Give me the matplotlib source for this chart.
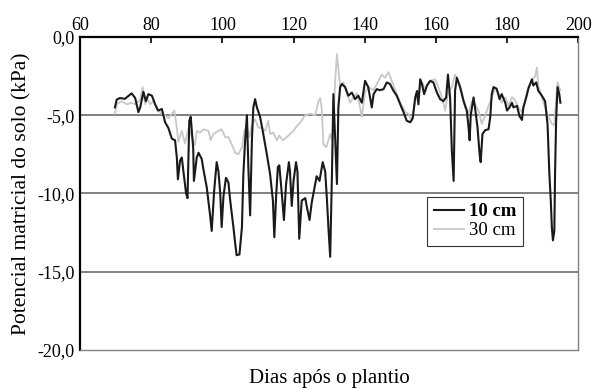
import matplotlib.pyplot as plt

plt.rcParams["font.family"] = ["Liberation Serif", "DejaVu Serif"]

# Soil matric potential (kPa), per day after planting
days_10cm = [
    69.8, 70.3, 71.2, 72.6, 74.5, 75.5, 76.4, 76.9, 77.8, 78.5, 79.2, 80.2,
    81.1, 81.9, 83.0, 83.9, 84.8, 85.8, 86.7, 87.2, 87.5, 88.1, 88.6, 89.0,
    89.8, 90.2, 90.7, 91.1, 91.8, 92.0, 92.8, 93.3, 94.2, 94.7, 95.6, 96.5,
    97.0, 97.7, 98.4, 98.9, 99.4, 99.8, 100.3, 101.0, 101.7, 102.2, 103.1,
    103.6, 104.0, 104.8, 105.5, 105.9, 106.4, 106.9, 107.3, 107.8, 108.3,
    108.7, 109.2, 109.7, 110.6, 111.5, 112.5, 113.4, 114.2, 114.6, 115.1,
    115.6, 116.0, 116.7, 117.3, 117.9, 118.7, 119.0, 119.5, 120.0, 120.7,
    121.1, 121.6, 122.3, 123.3, 123.7, 124.5, 125.1, 126.1, 126.5, 127.3,
    128.2, 128.9, 129.4, 129.8, 130.3, 130.8, 131.2, 131.7, 132.2, 132.6,
    133.1, 133.6, 134.5, 135.4, 136.4, 137.3, 138.2, 139.2, 140.1, 141.0,
    141.5, 142.0, 142.5, 143.4, 144.3, 145.3, 146.2, 147.1, 148.1, 149.0,
    150.0, 150.9, 151.8, 152.8, 153.5, 154.2, 154.7, 155.1, 155.6, 156.1,
    156.7, 157.5, 158.4, 159.3, 160.3, 161.2, 162.1, 162.9, 163.4, 164.0,
    164.5, 165.0, 165.4, 165.9, 166.8, 167.8, 168.7, 169.2, 169.5, 169.8,
    170.6, 171.0, 171.7, 172.3, 172.6, 173.1, 173.9, 174.8, 175.3, 175.7,
    176.2, 177.1, 177.9, 178.5, 179.5, 180.0, 180.7, 181.4, 181.8, 182.8,
    183.5, 184.2, 184.6, 185.4, 186.0, 187.0, 187.4, 188.2, 188.8, 189.8,
    190.7, 191.4, 191.9, 192.3, 192.6, 192.9, 193.3, 193.5, 193.8, 194.2,
    194.7, 195.0,
]
values_10cm = [
    -4.5, -4.0, -3.9, -3.95, -3.6, -3.9, -4.8, -4.5, -3.5, -4.1, -3.65, -3.75,
    -4.3, -4.7, -4.6, -5.45, -5.8, -6.5, -6.6, -7.7, -9.1, -7.9, -7.7, -8.5,
    -10.0, -10.3, -5.35, -5.1, -7.1, -9.2, -7.7, -7.4, -7.8, -8.5, -9.6, -11.3,
    -12.4, -9.8, -8.0, -8.6, -10.0, -12.15, -10.2, -9.0, -9.3, -10.45, -12.15,
    -13.2, -13.95, -13.9, -12.15, -8.75, -6.6, -5.0, -8.3, -11.4, -6.6,
    -4.5, -3.97, -4.5, -5.1, -6.2, -7.5, -8.75, -10.45, -12.8, -10.2,
    -8.3, -8.2, -10.0, -11.7, -9.4, -8.0, -8.6, -10.8, -9.2, -8.0,
    -8.6, -12.9, -10.45, -10.3, -10.8, -11.7, -10.6, -9.4, -8.9, -9.2,
    -8.0, -8.6, -10.45, -12.15, -14.05, -8.75, -3.65, -6.6, -9.4, -4.5,
    -3.2, -3.0, -3.2, -3.75, -3.55, -3.97, -3.75, -4.2, -2.8, -3.2,
    -3.86, -4.5, -3.65, -3.33, -3.4, -3.33, -2.9, -3.0, -3.44, -3.75,
    -4.3, -4.8, -5.35, -5.45, -5.2, -3.86, -3.45, -4.3, -2.7, -3.0,
    -3.65, -3.1, -2.8, -2.9, -3.55, -3.97, -4.1, -3.86, -2.4, -3.86,
    -7.3, -9.2, -3.44, -2.6, -3.2, -4.1, -4.7, -5.8, -6.6, -5.0,
    -3.86, -4.5, -5.75, -7.5, -8.0, -6.2, -5.95, -5.9, -5.1, -3.65,
    -3.2, -3.3, -3.97, -3.65, -4.2, -4.7, -4.5, -4.2, -4.5, -4.4,
    -5.05, -5.3, -4.5, -3.86, -3.3, -2.7, -3.1, -2.9, -3.44, -3.75,
    -4.1, -5.6, -8.75, -10.45, -12.15, -13.0, -12.4, -8.75, -5.35, -3.2,
    -3.65, -4.2,
]

days_30cm = [
    69.8, 70.3, 71.7, 73.1, 74.5, 75.5, 76.9, 77.6, 78.3, 78.9, 79.7, 80.6,
    82.0, 83.0, 83.9, 84.8, 85.8, 86.5, 87.2, 87.6, 88.6, 89.5, 90.5, 91.4,
    92.3, 92.8, 93.7, 94.7, 96.1, 96.7, 97.5, 98.9, 99.8, 100.8, 101.7,
    102.6, 103.6, 104.5, 105.5, 106.2, 106.9, 107.6, 108.3, 109.2, 110.1,
    111.1, 112.0, 112.9, 113.4, 114.3, 115.3, 116.0, 117.0, 118.1, 119.0,
    120.0, 120.9, 121.8, 123.3, 124.7, 126.1, 127.0, 127.5, 127.9, 128.4,
    129.2, 129.8, 130.3, 130.8, 131.2, 131.7, 132.2, 132.6, 133.1, 134.0,
    135.0, 135.9, 136.8, 137.8, 138.7, 139.2, 140.1, 141.0, 142.5, 143.9,
    144.8, 145.7, 146.7, 147.6, 148.6, 150.0, 151.4, 152.3, 153.2, 154.2,
    155.1, 156.1, 157.0, 158.4, 159.8, 160.7, 161.7, 162.6, 163.5, 164.5,
    165.4, 166.3, 167.3, 168.2, 169.2, 170.1, 171.0, 172.0, 172.9, 173.9,
    174.8, 175.7, 176.7, 177.6, 178.5, 179.5, 180.4, 181.4, 182.3, 183.2,
    184.2, 185.1, 186.0, 187.0, 187.9, 188.4, 188.8, 189.8, 190.7, 191.7,
    192.6, 193.3, 193.8, 194.2, 195.0,
]
values_30cm = [
    -4.9, -4.3, -4.1, -4.3, -4.2, -4.3, -4.0, -3.2, -4.3, -3.9, -4.3, -4.1,
    -4.7, -4.9, -5.0, -5.2, -4.9, -4.7, -5.8, -6.7, -6.0, -6.8, -5.8, -6.4,
    -6.9, -6.0, -6.1, -5.9, -6.0, -6.6, -6.2, -6.0, -5.9, -6.4, -6.4,
    -6.85, -7.4, -7.5, -7.05, -6.0, -5.7, -6.4, -5.6, -5.25, -5.8,
    -5.8, -6.0, -5.35, -6.2, -6.1, -6.6, -6.3, -6.6, -6.4, -6.2,
    -6.0, -5.7, -5.5, -5.0, -4.9, -5.0, -4.1, -3.9, -4.5, -6.85,
    -7.05, -6.6, -6.2, -6.6, -5.5, -2.8, -1.1, -2.0, -3.2, -2.9,
    -3.65, -4.2, -3.85, -3.6, -4.5, -5.1, -3.55, -3.2, -3.4, -2.8,
    -2.4, -2.6, -2.25, -2.8, -3.4, -4.2, -4.8, -4.9, -5.35, -4.1,
    -3.5, -2.9, -3.3, -2.8, -2.7, -3.2, -3.85, -4.7, -3.5, -3.2,
    -2.4, -2.8, -3.5, -4.5, -4.9, -4.1, -4.3, -4.7, -5.55, -5.0,
    -4.4, -3.9, -3.3, -3.6, -4.2, -3.85, -4.4, -3.85, -4.05, -4.5,
    -4.8, -4.05, -3.2, -2.8, -2.5, -1.95, -3.1, -3.85, -4.5, -5.1,
    -5.55, -5.65, -4.0, -2.9, -3.4,
]

x_ticks = [60, 80, 100, 120, 140, 160, 180, 200]
y_ticks = [0, -5, -10, -15, -20]
y_tick_labels = ["0,0", "-5,0", "-10,0", "-15,0", "-20,0"]

fig = plt.figure(figsize=(5.93, 3.90), dpi=100)
ax = fig.add_axes([0.135, 0.103, 0.840, 0.802])

ax.plot(days_30cm, values_30cm, color="#c8c8c8", linewidth=1.3,
        label="30 cm", zorder=2)
ax.plot(days_10cm, values_10cm, color="#1a1a1a", linewidth=1.5,
        label="10 cm", zorder=3)

ax.set_xlim(60, 200)
ax.set_ylim(-20, 0)

ax.xaxis.tick_top()
ax.set_xticks(x_ticks)
ax.set_yticks(y_ticks)
ax.set_yticklabels(y_tick_labels)
ax.tick_params(axis="x", direction="in", length=4, width=1.2,
               labelsize=13, pad=2)
ax.tick_params(axis="y", length=0, labelsize=13, pad=4)

for level in [-5, -10, -15]:
    ax.axhline(level, color="#808080", linewidth=1.4, zorder=1)

ax.spines["top"].set_color("black")
ax.spines["top"].set_linewidth(1.6)
ax.spines["left"].set_color("black")
ax.spines["left"].set_linewidth(1.6)
ax.spines["right"].set_color("#808080")
ax.spines["right"].set_linewidth(1.0)
ax.spines["bottom"].set_color("#808080")
ax.spines["bottom"].set_linewidth(1.0)

ax.set_ylabel("Potencial matricial do solo (kPa)", fontsize=15.5, labelpad=4)
fig.text(0.555, 0.03, "Dias após o plantio", ha="center", va="center",
         fontsize=15)

handles, labels = ax.get_legend_handles_labels()
legend = ax.legend(handles[::-1], labels[::-1], loc="upper left",
                   bbox_to_anchor=(0.697, 0.49), fontsize=13.5,
                   frameon=True, fancybox=False, handlelength=1.6,
                   handletextpad=0.3, borderpad=0.35, labelspacing=0.1,
                   borderaxespad=0)
legend.get_frame().set_edgecolor("black")
legend.get_frame().set_linewidth(0.8)
legend.get_texts()[0].set_fontweight("bold")

fig.savefig("out.png", dpi=100)
